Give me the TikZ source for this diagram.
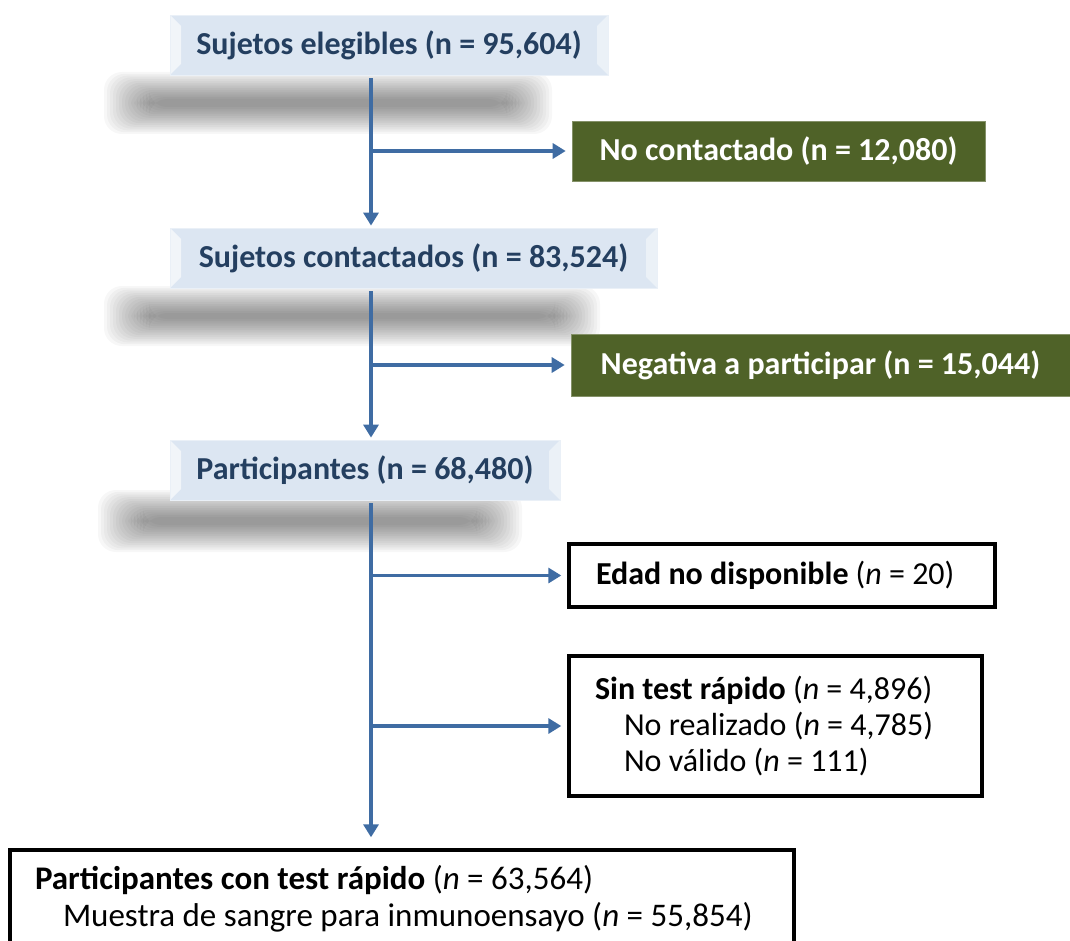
\documentclass[tikz,border=0pt]{standalone}
\usepackage{fontspec}
\setmainfont{Carlito}
\usetikzlibrary{arrows.meta}
\definecolor{flowblue}{HTML}{3F6CA3}
\definecolor{boxblue}{HTML}{DCE6F2}
\definecolor{navytext}{HTML}{243F60}
\definecolor{olivebox}{HTML}{4F6228}
\newcommand\softshadow[4]{%
  \foreach \i in {0,...,15}{%
    \fill[black,opacity=0.03,rounded corners=18pt]
      ({#1+\i*3},{#2+\i*1.8}) rectangle ({#3-\i*3},{#4-\i*1.8});}}
\newcommand\natspace{\spaceskip=0pt\xspaceskip=0pt\relax}
\tikzset{
  bluebox/.style={rectangle, fill=boxblue, draw=boxblue!60!white, line width=0.8pt,
    minimum height=60pt, inner sep=0pt, text=navytext, font=\bfseries\fontsize{32}{36}\selectfont,
    path picture={
      \fill[white,opacity=.6] (path picture bounding box.north west) -- ++(11,11)
        -- ([shift={(11,-11)}]path picture bounding box.south west)
        -- (path picture bounding box.south west) -- cycle;
      \fill[white,opacity=.45] (path picture bounding box.north east) -- ++(-11,11)
        -- ([shift={(-11,-11)}]path picture bounding box.south east)
        -- (path picture bounding box.south east) -- cycle;}},
  greenbox/.style={rectangle, fill=olivebox, draw=olivebox!70!white, line width=0.6pt,
    inner sep=0pt, text=white, font=\bfseries\fontsize{32}{36}\selectfont},
  whitebox/.style={rectangle, draw=black, line width=3.4pt, fill=white, align=left,
    font=\fontsize{32}{36}\selectfont, inner ysep=0pt},
  flow/.style={draw=flowblue, line width=3.6pt, -{Triangle[length=13pt,width=15pt]}},
}
\begin{document}
\begin{tikzpicture}[x=1pt,y=-1pt]
\useasboundingbox (0,0) rectangle (1070,941);
% soft shadows under the blue boxes
\softshadow{104}{72}{552}{134}
\softshadow{104}{286}{600}{346}
\softshadow{98}{490}{522}{552}
% main boxes
\node[bluebox, minimum width=438pt] (b1) at (389,45) {Sujetos elegibles (n = 95,604)};
\node[bluebox, minimum width=487pt] (b2) at (413.5,258) {Sujetos contactados (n = 83,524)};
\node[bluebox, minimum width=390pt] (b3) at (365,470) {Participantes (n = 68,480)};
% exclusion boxes
\node[greenbox, minimum width=413pt, minimum height=60pt] (g1) at (778.5,151) {No contactado (n = 12,080)};
\node[greenbox, minimum width=499pt, minimum height=62pt] (g2) at (820.5,365) {Negativa a participar (n = 15,044)};
\node[whitebox, text width=372pt, inner xsep=27pt, minimum height=63pt] (e1) at (782,575.5)
  {\natspace\mbox{\textbf{Edad no disponible} (\textit{n} = 20)}};
\node[whitebox, text width=361pt, inner xsep=26pt, minimum height=140pt] (e2) at (775.5,726)
  {\natspace\mbox{\textbf{Sin test rápido} (\textit{n} = 4,896)}\\
   \mbox{\hspace*{29pt}No realizado (\textit{n} = 4,785)}\\
   \mbox{\hspace*{29pt}No válido (\textit{n} = 111)}};
\node[whitebox, text width=734pt, inner xsep=25pt, minimum height=98pt,
  font=\fontsize{33}{37}\selectfont] (fin) at (402,899)
  {\natspace\mbox{\textbf{Participantes con test rápido} (\textit{n} = 63,564)}\\
   \mbox{\hspace*{28pt}Muestra de sangre para inmunoensayo (\textit{n} = 55,854)}};
% spine
\coordinate (sp) at (371,0);
\draw[flow, shorten <=3pt, shorten >=2pt] (b1.south -| sp) -- (b2.north -| sp);
\draw[flow, shorten <=3pt, shorten >=2pt] (b2.south -| sp) -- (b3.north -| sp);
\draw[flow, shorten <=3pt, shorten >=11pt] (b3.south -| sp) -- (fin.north -| sp);
\draw[flow, shorten >=6pt] (g1.west -| sp) -- (g1.west);
\draw[flow, shorten >=6pt] (g2.west -| sp) -- (g2.west);
\draw[flow, shorten >=6pt] (e1.west -| sp) -- (e1.west);
\draw[flow, shorten >=6pt] (e2.west -| sp) -- (e2.west);
\end{tikzpicture}
\end{document}
